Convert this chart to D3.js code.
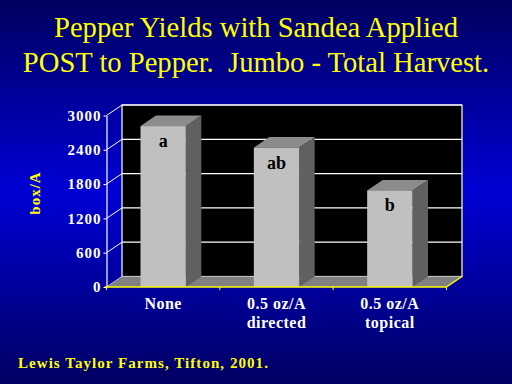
<!DOCTYPE html>
<html>
<head>
<meta charset="utf-8">
<script src="https://cdn.jsdelivr.net/npm/d3@7"></script>
</head>
<body style="margin:0">
<svg id="chart" width="512" height="384" font-family="Liberation Serif, serif"></svg>
<script>
// chart data
const categories = ['None', '0.5 oz/A directed', '0.5 oz/A topical'];
const categoryLines = [['None'], ['0.5 oz/A', 'directed'], ['0.5 oz/A', 'topical']];
const yields = [2815, 2440, 1690];
const letters = ['a', 'ab', 'b'];
const yTicks = [0, 600, 1200, 1800, 2400, 3000];
const titleLines = ['Pepper Yields with Sandea Applied', 'POST to Pepper.\u00a0 Jumbo - Total Harvest.'];

const serif = 'Liberation Serif, serif';
const svg = d3.select('#chart');

// blue background gradient
const grad = svg.append('defs').append('linearGradient')
  .attr('id', 'bg').attr('x1', 0).attr('y1', 0).attr('x2', 0).attr('y2', 1);
grad.append('stop').attr('offset', '0%').attr('stop-color', '#000060');
grad.append('stop').attr('offset', '50%').attr('stop-color', '#0000d4');
grad.append('stop').attr('offset', '100%').attr('stop-color', '#000062');
svg.append('rect').attr('width', 512).attr('height', 384).attr('fill', 'url(#bg)');

// title
svg.append('g').selectAll('text')
  .data(titleLines)
  .enter()
  .append('text')
  .attr('x', 256)
  .attr('y', (d, i) => 37 + i * 35)
  .attr('text-anchor', 'middle')
  .attr('fill', '#ffff00')
  .attr('font-size', 28.6)
  .attr('font-family', serif)
  .text(d => d);

// 3D geometry
const dx = 15.5, dy = -10.5;
const x = d3.scaleBand().domain(categories).range([106.5, 446.5]).paddingInner(0.6).paddingOuter(0.3);
const y = d3.scaleLinear().domain([0, 3000]).range([287, 115.5]);
const x0 = 106.5, x1 = 446.5;

// back wall
svg.append('rect')
  .attr('x', x0 + dx).attr('y', y(3000) + dy)
  .attr('width', x1 - x0).attr('height', y(0) - y(3000))
  .attr('fill', '#000').attr('stroke', '#fff').attr('stroke-width', 1.2);

// gridlines on back wall and side wall
const grid = svg.append('g');
grid.selectAll('.back')
  .data(yTicks)
  .enter()
  .append('line')
  .attr('x1', x0 + dx).attr('x2', x1 + dx)
  .attr('y1', d => y(d) + dy).attr('y2', d => y(d) + dy)
  .attr('stroke', '#fff').attr('stroke-width', 1.2);
grid.selectAll('.side')
  .data(yTicks)
  .enter()
  .append('line')
  .attr('x1', x0).attr('x2', x0 + dx)
  .attr('y1', d => y(d)).attr('y2', d => y(d) + dy)
  .attr('stroke', '#fff').attr('stroke-width', 1);

// floor
svg.append('path')
  .attr('d', `M${x0},${y(0)}L${x1},${y(0)}L${x1 + dx},${y(0) + dy}L${x0 + dx},${y(0) + dy}Z`)
  .attr('fill', '#808080');

// bars
const bars = svg.append('g').selectAll('g')
  .data(yields)
  .enter()
  .append('g');
bars.append('path')
  .attr('d', (d, i) => {
    const bx = x(categories[i]) + x.bandwidth();
    return `M${bx},${y(d)}L${bx + dx},${y(d) + dy}L${bx + dx},${y(0) + dy}L${bx},${y(0)}Z`;
  })
  .attr('fill', '#606060');
bars.append('path')
  .attr('d', (d, i) => {
    const bx = x(categories[i]), w = x.bandwidth();
    return `M${bx},${y(d)}L${bx + dx},${y(d) + dy}L${bx + w + dx},${y(d) + dy}L${bx + w},${y(d)}Z`;
  })
  .attr('fill', '#8c8c8c');
bars.append('rect')
  .attr('x', (d, i) => x(categories[i]))
  .attr('y', d => y(d))
  .attr('width', x.bandwidth())
  .attr('height', d => y(0) - y(d))
  .attr('fill', '#c0c0c0');
bars.append('text')
  .attr('x', (d, i) => x(categories[i]) + x.bandwidth() / 2)
  .attr('y', d => y(d) + 21)
  .attr('text-anchor', 'middle')
  .attr('font-size', 18)
  .attr('font-weight', 'bold')
  .attr('fill', '#000')
  .attr('font-family', serif)
  .text((d, i) => letters[i]);

// y axis
const yAxis = svg.append('g')
  .attr('transform', `translate(${x0},0)`)
  .call(d3.axisLeft(y).tickValues(yTicks).tickSize(3).tickSizeOuter(0).tickFormat(d3.format('d')))
  .attr('font-family', serif);
yAxis.select('.domain').attr('stroke', '#fff').attr('stroke-width', 1.2);
yAxis.selectAll('.tick line').attr('stroke', '#fff');
yAxis.selectAll('.tick text')
  .attr('fill', '#fff')
  .attr('font-size', 15)
  .attr('font-weight', 'bold')
  .attr('letter-spacing', 1)
  .attr('font-family', serif)
  .attr('x', -5);

// x axis (yellow)
const xAxis = svg.append('g');
xAxis.append('line')
  .attr('x1', x0 - 2).attr('x2', x1).attr('y1', y(0)).attr('y2', y(0))
  .attr('stroke', '#ffff00').attr('stroke-width', 1.5);
xAxis.append('line')
  .attr('x1', x1).attr('x2', x1 + dx).attr('y1', y(0)).attr('y2', y(0) + dy)
  .attr('stroke', '#ffff00').attr('stroke-width', 1.5);
xAxis.selectAll('.tk')
  .data(d3.range(categories.length + 1))
  .enter()
  .append('line')
  .attr('x1', i => x0 + i * x.step()).attr('x2', i => x0 + i * x.step())
  .attr('y1', y(0)).attr('y2', y(0) + 3)
  .attr('stroke', '#ffff00').attr('stroke-width', 1);

// category labels
const xl = svg.append('g').selectAll('text')
  .data(categoryLines)
  .enter()
  .append('text')
  .attr('text-anchor', 'middle')
  .attr('fill', '#fff')
  .attr('font-size', 16)
  .attr('font-weight', 'bold')
  .attr('letter-spacing', 0.5)
  .attr('font-family', serif);
xl.selectAll('tspan')
  .data((d, i) => d.map(t => ({ t, i })))
  .enter()
  .append('tspan')
  .attr('x', d => x(categories[d.i]) + x.bandwidth() / 2)
  .attr('y', (d, j) => 309 + j * 19)
  .text(d => d.t);

// y axis title
svg.append('text')
  .attr('transform', 'translate(40,193) rotate(-90)')
  .attr('text-anchor', 'middle')
  .attr('fill', '#ffff00')
  .attr('font-size', 15)
  .attr('font-weight', 'bold')
  .attr('letter-spacing', 1)
  .attr('font-family', serif)
  .text('box/A');

// footer
svg.append('text')
  .attr('x', 18)
  .attr('y', 368)
  .attr('fill', '#ffff00')
  .attr('font-size', 15)
  .attr('font-weight', 'bold')
  .attr('letter-spacing', 1.05)
  .attr('font-family', serif)
  .text('Lewis Taylor Farms, Tifton, 2001.');
</script>
</body>
</html>
